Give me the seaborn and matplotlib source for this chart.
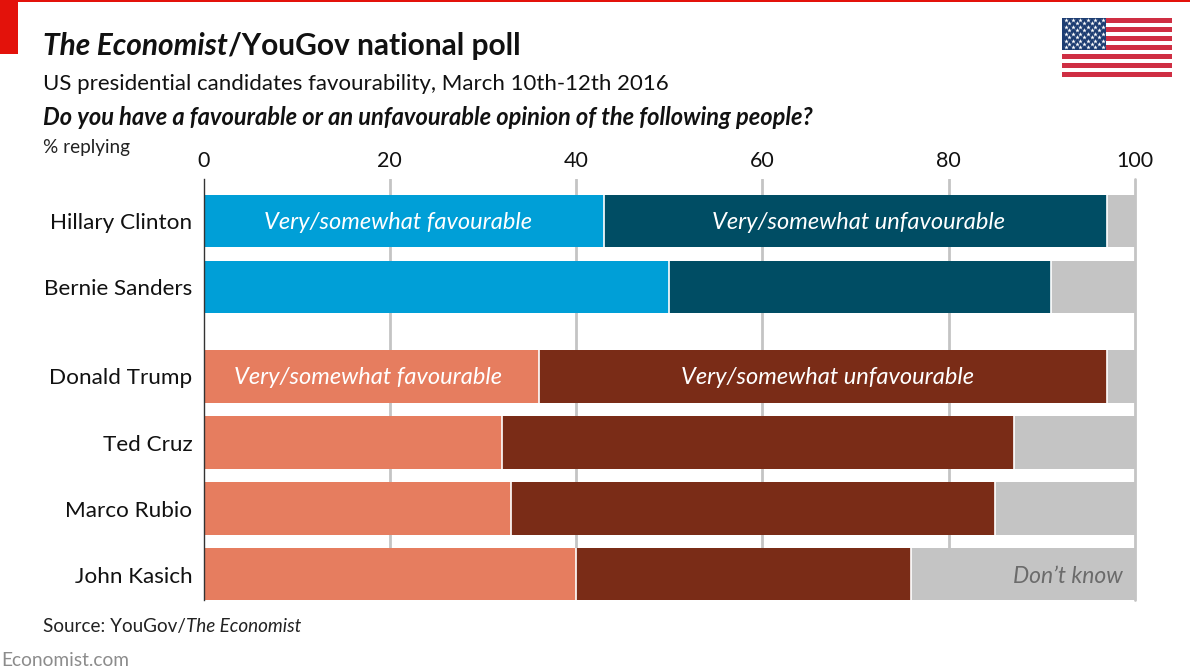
import numpy as np
import pandas as pd
import matplotlib
matplotlib.use("Agg")
import matplotlib.pyplot as plt
from matplotlib.patches import Rectangle
import seaborn as sns

candidates = ["Hillary Clinton", "Bernie Sanders", "Donald Trump", "Ted Cruz", "Marco Rubio", "John Kasich"]
favourable = [43, 50, 36, 32, 33, 40]
unfavourable = [54, 41, 61, 55, 52, 36]
dont_know = [3, 9, 3, 13, 15, 24]
party = ["dem", "dem", "rep", "rep", "rep", "rep"]
x_ticks = [0, 20, 40, 60, 80, 100]

FAV = {"dem": "#009fd7", "rep": "#e67d5f"}
UNFAV = {"dem": "#004d64", "rep": "#7a2c17"}
GREY = "#c4c4c4"
FONT = "Lato"
W, H = 1190, 670

sns.set_style("white")
plt.rcParams["font.family"] = [FONT, "DejaVu Sans"]

# rows sit on a numeric scale so the two parties can have a wider gap
row_pos = [0, 1, 2.356, 3.356, 4.356, 5.356]
df = pd.DataFrame({"name": candidates, "pos": row_pos, "fav": favourable,
                   "unfav": unfavourable, "dk": dont_know, "party": party})
df["fav_end"] = df["fav"]
df["unfav_end"] = df["fav"] + df["unfav"]
df["dk_end"] = df["unfav_end"] + df["dk"]

fig = plt.figure(figsize=(W / 100, H / 100), dpi=100, facecolor="white")
ax = fig.add_axes([203.5 / W, 1 - 600 / H, (1135 - 203.5) / W, (600 - 179) / H])


def px(x, y):
    return x / W, 1 - y / H


# longest first, each shorter segment paints over the previous one
sns.barplot(data=df, x="dk_end", y="pos", orient="h", native_scale=True, width=0.79,
            color=GREY, saturation=1, linewidth=0, ax=ax, zorder=3)
sns.barplot(data=df, x="unfav_end", y="pos", hue="party", palette=UNFAV, orient="h", saturation=1,
            native_scale=True, width=0.79, linewidth=0, dodge=False, legend=False, ax=ax, zorder=4)
sns.barplot(data=df, x="fav_end", y="pos", hue="party", palette=FAV, orient="h", saturation=1,
            native_scale=True, width=0.79, linewidth=0, dodge=False, legend=False, ax=ax, zorder=5)

# thin white separators between the segments
for col in ["fav_end", "unfav_end"]:
    for _, r in df.iterrows():
        ax.plot([r[col], r[col]], [r["pos"] - 0.395, r["pos"] + 0.395],
                color="white", lw=1.2, zorder=6, solid_capstyle="butt")

ax.set_xlim(0, 100)
ax.set_ylim(5.742, -0.636)
ax.set_xlabel("")
ax.set_ylabel("")
ax.set_xticks(x_ticks)
ax.xaxis.tick_top()
ax.tick_params(axis="x", length=0, pad=6, labelsize=15.5, labelcolor="#111111")
ax.set_yticks(row_pos)
ax.set_yticklabels(candidates, fontsize=16.2, color="#111111")
ax.tick_params(axis="y", length=0, pad=8)
ax.set_axisbelow(True)
ax.grid(axis="x", color="#c4c4c4", lw=2)
ax.grid(axis="y", visible=False)
sns.despine(ax=ax, top=True, right=True, bottom=True, left=False)
ax.spines["left"].set_color("#333333")
ax.spines["left"].set_linewidth(1)
ax.spines["left"].set_zorder(7)
grid_lines = ax.get_xgridlines()
grid_lines[0].set_visible(False)
grid_lines[-1].set_clip_on(False)

# in-bar labels
for row, xc, label in [(0.03, 20.9, "Very/somewhat favourable"), (0.03, 70.3, "Very/somewhat unfavourable"),
                       (2.366, 17.7, "Very/somewhat favourable"), (2.366, 67, "Very/somewhat unfavourable")]:
    ax.text(xc, row, label, color="white", style="italic", fontsize=17,
            ha="center", va="center", zorder=8)
ax.text(98.7, 5.386, "Don’t know", color="#6b6b6b", style="italic", fontsize=16.5,
        ha="right", va="center", zorder=8)


# header and footer, with mixed styles on one baseline
def chain(x, y, parts, **kw):
    fx, fy = px(x, y)
    renderer = fig.canvas.get_renderer()
    for s, style in parts:
        t = fig.text(fx, fy, s, style=style, va="baseline", **kw)
        fx = t.get_window_extent(renderer).x1 / W


chain(43, 55, [("The Economist", "italic"), ("/YouGov national poll", "normal")],
      fontsize=21.5, fontweight="bold", color="#111111")
chain(43, 90, [("US presidential candidates favourability, March 10th-12th 2016", "normal")],
      fontsize=16, color="#111111")
chain(43, 125, [("Do you have a favourable or an unfavourable opinion of the following people?", "italic")],
      fontsize=17, fontweight="bold", color="#111111")
chain(43, 153, [("% replying", "normal")], fontsize=13.7, color="#222222")
chain(43, 632, [("Source: YouGov/", "normal"), ("The Economist", "italic")], fontsize=13.6, color="#222222")
chain(1, 666, [("Economist.com", "normal")], fontsize=13.8, color="#8c8c8c")

# Economist red tag
fig.add_artist(Rectangle(px(0, 2), 1, 2 / H, transform=fig.transFigure, color="#e3120b", lw=0))
fig.add_artist(Rectangle(px(0, 54), 18 / W, 54 / H, transform=fig.transFigure, color="#e3120b", lw=0))

# flag
flag = fig.add_axes([1062 / W, 1 - 77 / H, 110 / W, 59 / H])
flag.set_xlim(0, 110)
flag.set_ylim(13, 0)
flag.axis("off")
for i in range(13):
    flag.add_patch(Rectangle((0, i), 110, 1, color="#cf2e43" if i % 2 == 0 else "white", lw=0))
flag.add_patch(Rectangle((0, 0), 44, 7, color="#1d3d72", lw=0, zorder=3))
star_x, star_y = [], []
for r in range(9):
    n = 6 if r % 2 == 0 else 5
    off = 3.6 if r % 2 == 0 else 7.3
    for c in range(n):
        star_x.append(off + c * 7.4)
        star_y.append(0.4 + r * 0.76)
flag.scatter(star_x, star_y, marker="*", s=12, color="white", linewidths=0, zorder=4)

fig.savefig("out.png", dpi=100)
